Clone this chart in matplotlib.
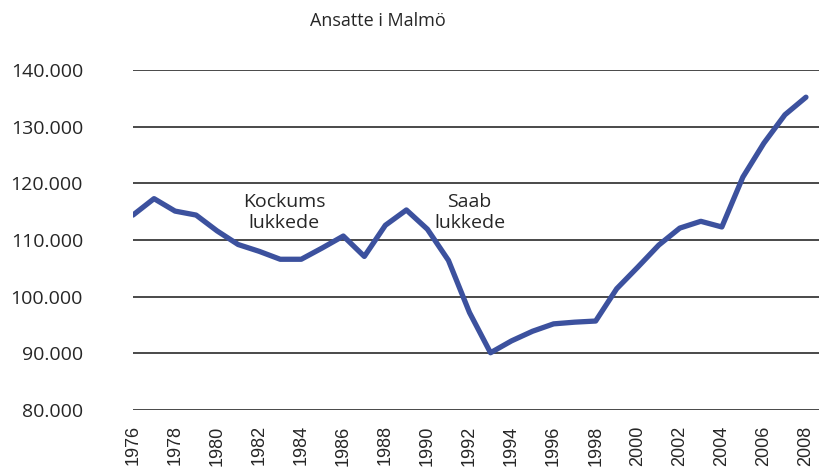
import matplotlib
matplotlib.use("Agg")
import matplotlib.pyplot as plt

years = list(range(1976, 2009))
ansatte = [114.4, 117.3, 115.1, 114.4, 111.6, 109.2, 108.0, 106.6, 106.6, 108.6,
           110.7, 107.1, 112.6, 115.3, 111.9, 106.4, 97.2, 90.1, 92.2, 93.9,
           95.2, 95.5, 95.7, 101.4, 105.2, 109.1, 112.1, 113.3, 112.3, 121.1,
           127.1, 132.1, 135.2]
ansatte = [v * 1000 for v in ansatte]

yticks = [80000, 90000, 100000, 110000, 120000, 130000, 140000]
ytick_labels = ["80.000", "90.000", "100.000", "110.000", "120.000", "130.000", "140.000"]
xticks = list(range(1976, 2009, 2))

notes = [("Kockums\nlukkede", 1983.2, 114900), ("Saab\nlukkede", 1992.0, 114900)]

fig = plt.figure(figsize=(8.19, 4.67), dpi=100)
ax = fig.add_axes([133 / 819, 57 / 467, 1 - 133 / 819, 340 / 467])

for y in yticks:
    ax.axhline(y, color="#3a3a3a", lw=1.3, zorder=1)

ax.plot(years, ansatte, color="#3C519E", lw=3.8, solid_joinstyle="round",
        solid_capstyle="round", zorder=3)

for txt, x, y in notes:
    ax.text(x, y, txt, ha="center", va="center", fontsize=14,
            family="Open Sans", color="#262626", linespacing=1.2, zorder=4)

ax.set_xlim(1976, 2008.62)
ax.set_ylim(80000, 140000)
ax.set_yticks(yticks)
ax.set_yticklabels(ytick_labels, family="Open Sans", fontsize=14, color="#262626")
ax.set_xticks(xticks)
ax.set_xticklabels([str(x) for x in xticks], rotation=90, family="Liberation Sans",
                   fontsize=13, color="#262626")
ax.tick_params(axis="y", length=0, pad=36)
ax.tick_params(axis="x", length=0, pad=11)
for s in ax.spines.values():
    s.set_visible(False)

fig.text(378 / 819, 1 - 21 / 467, "Ansatte i Malmö", ha="center", va="center",
         family="Open Sans", fontsize=13, color="#262626")

fig.savefig("out.png", dpi=100)
